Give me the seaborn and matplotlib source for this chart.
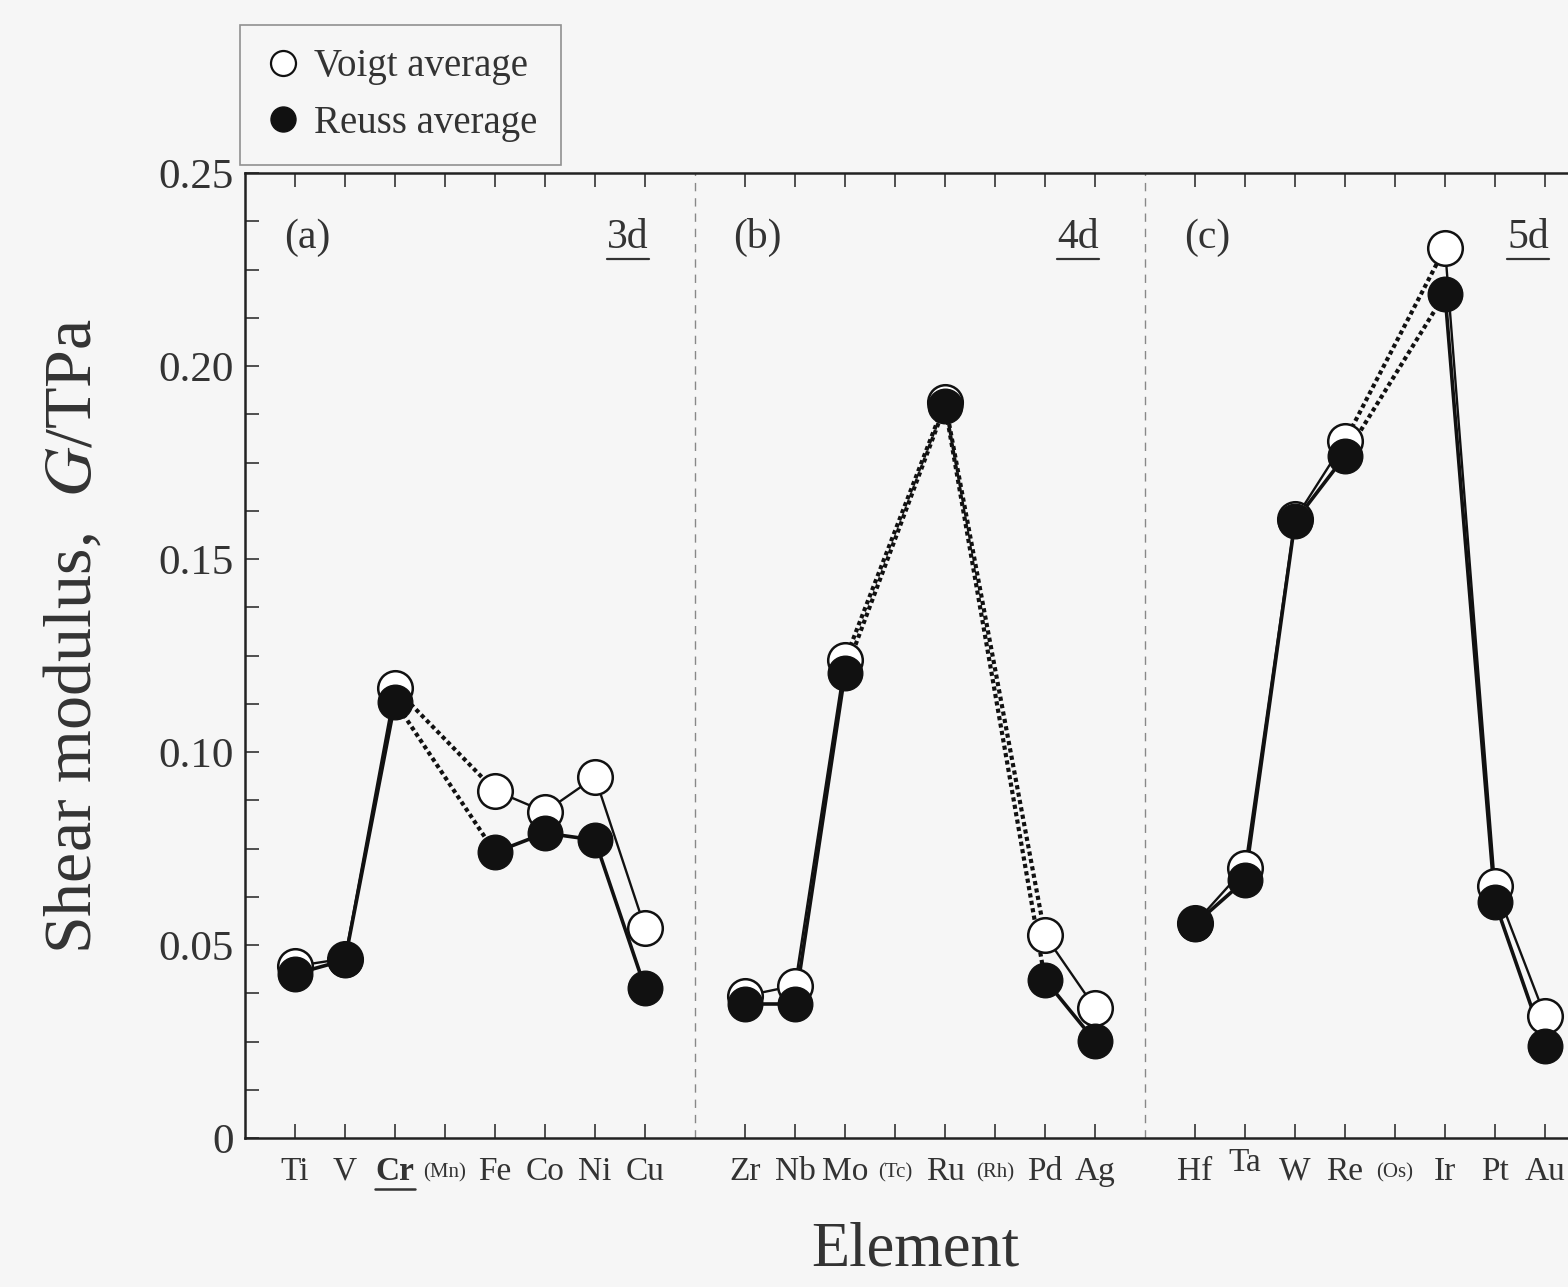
import numpy as np
import pandas as pd
import matplotlib
matplotlib.use("Agg")
import matplotlib.pyplot as plt
import matplotlib.transforms as mtransforms
from matplotlib.ticker import FixedLocator, FixedFormatter, MultipleLocator
from matplotlib.lines import Line2D
import seaborn as sns

# ---------------- data ----------------
nan = np.nan
labels_3d = ["Ti", "V", "Cr", "(Mn)", "Fe", "Co", "Ni", "Cu"]
voigt_3d = [0.0445, 0.0465, 0.1166, nan, 0.0900, 0.0845, 0.0935, 0.0544]
reuss_3d = [0.0425, 0.0461, 0.1130, nan, 0.0740, 0.0790, 0.0772, 0.0389]

labels_4d = ["Zr", "Nb", "Mo", "(Tc)", "Ru", "(Rh)", "Pd", "Ag"]
voigt_4d = [0.0368, 0.0395, 0.1238, nan, 0.1907, nan, 0.0525, 0.0337]
reuss_4d = [0.0347, 0.0347, 0.1205, nan, 0.1897, nan, 0.0410, 0.0251]

labels_5d = ["Hf", "Ta", "W", "Re", "(Os)", "Ir", "Pt", "Au"]
voigt_5d = [0.0556, 0.0700, 0.1603, 0.1806, nan, 0.2306, 0.0653, 0.0316]
reuss_5d = [0.0554, 0.0668, 0.1598, 0.1767, nan, 0.2187, 0.0611, 0.0238]

panel_tags = ["(a)", "(b)", "(c)"]
period_tags = ["3d", "4d", "5d"]
yticks = [0, 0.05, 0.10, 0.15, 0.20, 0.25]
ytick_labels = ["0", "0.05", "0.10", "0.15", "0.20", "0.25"]

# ---------------- build frame ----------------
blocks = [(labels_3d, voigt_3d, reuss_3d),
          (labels_4d, voigt_4d, reuss_4d),
          (labels_5d, voigt_5d, reuss_5d)]
rows = []
for b, (labs, vv, rr) in enumerate(blocks):
    for i, lab in enumerate(labs):
        rows.append(dict(block=b, pos=b * 9 + i, label=lab, Voigt=vv[i], Reuss=rr[i]))
df = pd.DataFrame(rows)

# ---------------- style ----------------
BG = "#f6f6f6"
TXT = "#333333"
sns.set_theme(style="white")
plt.rcParams["font.family"] = ["Liberation Serif", "DejaVu Serif"]
plt.rcParams["mathtext.fontset"] = "stix"
plt.rcParams["axes.edgecolor"] = "#222222"

fig = plt.figure(figsize=(15.68, 12.87), dpi=100, facecolor=BG)
ax = fig.add_axes([245 / 1568, 149 / 1287, 1350 / 1568, 965 / 1287])
ax.set_facecolor(BG)

# ---------------- lines ----------------
series_lw = {"Voigt": 1.7, "Reuss": 2.6}
for b in range(3):
    sub = df[df.block == b]
    for col in ["Voigt", "Reuss"]:
        pts = sub[~sub[col].isna()].reset_index(drop=True)
        for k in range(len(pts) - 1):
            seg = pts.iloc[k:k + 2]
            gap = seg.pos.iloc[1] - seg.pos.iloc[0] > 1
            sns.lineplot(data=seg, x="pos", y=col, ax=ax, color="#111111",
                         lw=3.0 if gap else series_lw[col],
                         linestyle=(0, (1.0, 0.8)) if gap else "-",
                         estimator=None, sort=False, legend=False, zorder=2)

# ---------------- markers ----------------
sns.scatterplot(data=df, x="pos", y="Voigt", ax=ax, marker="o", s=620,
                facecolor="white", edgecolor="#111111", linewidth=1.8,
                zorder=3, legend=False)
sns.scatterplot(data=df, x="pos", y="Reuss", ax=ax, marker="o", s=620,
                color="#111111", edgecolor="#111111", linewidth=1.0,
                zorder=4, legend=False)

# ---------------- axes ----------------
ax.set_xlim(-1, 26)
ax.set_ylim(0, 0.25)
ax.xaxis.set_major_locator(FixedLocator(df.pos.tolist()))
ax.xaxis.set_major_formatter(FixedFormatter(df.label.tolist()))
ax.yaxis.set_major_locator(FixedLocator(yticks))
ax.yaxis.set_major_formatter(FixedFormatter(ytick_labels))
ax.yaxis.set_minor_locator(MultipleLocator(0.0125))
ax.tick_params(axis="x", direction="in", top=True, bottom=True, length=10,
               width=1.2, color="#333333", pad=13, labelsize=24, labelcolor=TXT)
ax.tick_params(axis="y", which="both", direction="in", left=True, right=True,
               length=10, width=1.2, color="#333333", pad=8, labelsize=31,
               labelcolor=TXT)
for sp in ax.spines.values():
    sp.set_linewidth(1.8)
    sp.set_visible(True)

for lab in ax.get_xticklabels():
    t = lab.get_text()
    if t.startswith("("):
        lab.set_fontsize(15)
        lab.set_transform(lab.get_transform() +
                          mtransforms.ScaledTranslation(0, -5 / 72, fig.dpi_scale_trans))
    if t == "Cr":
        lab.set_fontweight("bold")
    if t == "Ta":
        lab.set_transform(lab.get_transform() +
                          mtransforms.ScaledTranslation(0, 6 / 72, fig.dpi_scale_trans))

ax.set_xlabel("")
ax.set_ylabel("Shear modulus,  $\\mathit{G}$/TPa", fontsize=49, color=TXT)
ax.yaxis.set_label_coords(-0.104, 0.52)
fig.text(915 / 1568, 1 - 1250 / 1287, "Element", fontsize=45, color=TXT,
         ha="center", va="center")

# separators
for xs in [8, 17]:
    ax.axvline(xs, color="#888888", lw=1.0, ls=(0, (6, 5)), zorder=1)

# panel annotations
for b in range(3):
    ax.text(b * 9 + 0.24, 0.2333, panel_tags[b], fontsize=30, color=TXT,
            ha="center", va="center")
    ax.text(b * 9 + 6.66, 0.2333, period_tags[b], fontsize=30, color=TXT,
            ha="center", va="center")
    ax.plot([b * 9 + 6.24, b * 9 + 7.08], [0.2278, 0.2278], color=TXT, lw=1.6,
            zorder=2)

# underline under Cr tick label
ax.plot([1.6, 2.4], [-0.0132, -0.0132], color=TXT, lw=1.8, clip_on=False)

# legend
handles = [Line2D([], [], marker="o", ls="none", markersize=18, markerfacecolor="white",
                  markeredgecolor="#111111", markeredgewidth=1.6, label="Voigt average"),
           Line2D([], [], marker="o", ls="none", markersize=18, markerfacecolor="#111111",
                  markeredgecolor="#111111", label="Reuss average")]
leg = fig.legend(handles=handles, loc="upper left",
                 bbox_to_anchor=(240 / 1568, 1 - 25 / 1287),
                 frameon=True, fancybox=False, fontsize=28, handletextpad=0.3,
                 handlelength=1.0, borderpad=0.6, labelspacing=0.5,
                 borderaxespad=0.0)
leg.get_frame().set_edgecolor("#777777")
leg.get_frame().set_facecolor(BG)
leg.get_frame().set_linewidth(1.2)
for t in leg.get_texts():
    t.set_color(TXT)

fig.savefig("out.png", dpi=100, facecolor=BG)
